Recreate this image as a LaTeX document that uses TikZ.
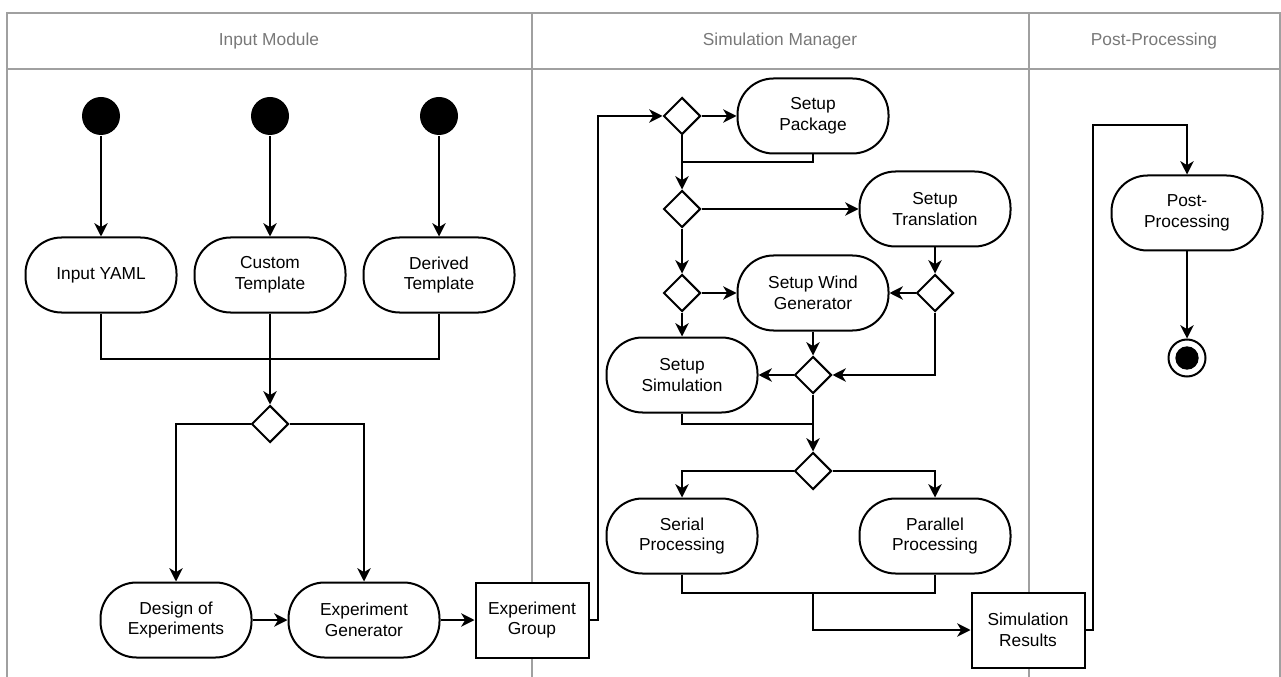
\documentclass[tikz,border=0pt]{standalone}
\usepackage{fontspec}
\setmainfont{Liberation Sans}
\usetikzlibrary{shapes.geometric,arrows.meta,positioning}
\definecolor{lanegray}{RGB}{160,160,160}
\definecolor{headgray}{RGB}{120,120,120}
\begin{document}
\begin{tikzpicture}[x=0.75pt,y=-0.75pt]
    \tikzstyle{every node} = [align=center, font=\fontsize{13pt}{15.5pt}\selectfont, line width=1.5pt]
    \tikzstyle{action} = [draw, fill=white, rounded corners=27pt, minimum width=113.25pt, minimum height=56.25pt, inner sep=0pt]
    \tikzstyle{object} = [draw, fill=white, minimum width=84.75pt, minimum height=56.25pt, inner sep=0pt]
    \tikzstyle{decision} = [draw, fill=white, diamond, minimum width=27.75pt, minimum height=27.75pt, inner sep=0pt]
    \tikzstyle{startdot} = [circle, fill=black, minimum size=28.5pt, inner sep=0pt]
    \tikzstyle{enddot} = [draw, circle, minimum size=27.75pt, inner sep=0pt, path picture={\fill (path picture bounding box.center) circle (8.75pt);}]
    \tikzstyle{flow} = [line width=1.5pt, -{Stealth[length=10pt, width=10pt, inset=3pt]}]
    \tikzstyle{link} = [line width=1.5pt]
    \tikzstyle{lane} = [draw=lanegray, line width=1.5pt]
    \tikzstyle{lanetitle} = [text=headgray]

    \useasboundingbox (0,0) rectangle (1281,677);

    % swimlanes
    \draw[lane] (7,677) -- (7,13) -- (1280,13) -- (1280,677);
    \draw[lane] (7,69) -- (1280,69);
    \draw[lane] (532,13) -- (532,677);
    \draw[lane] (1029,13) -- (1029,677);
    \node[lanetitle] (t1) at (269,41) {Input Module};
    \node[lanetitle] (t2) at (780,41) {Simulation Manager};
    \node[lanetitle] (t3) at (1154,41) {Post-Processing};

    % input module
    \node[action] (yaml) at (101,275) {Input YAML};
    \node[action, right of=yaml, node distance=126.75pt] (custom) {Custom\\Template};
    \node[action, right of=custom, node distance=126.75pt] (derived) {Derived\\Template};
    \node[startdot, above of=yaml, node distance=119.25pt] (s1) {};
    \node[startdot, above of=custom, node distance=119.25pt] (s2) {};
    \node[startdot, above of=derived, node distance=119.25pt] (s3) {};
    \coordinate (m1) at (270,359);
    \node[decision, below of=custom, node distance=111.75pt] (d1) {};
    \node[action] (doe) at (176,620) {Design of\\Experiments};
    \node[action, right of=doe, node distance=141pt] (gen) {Experiment\\Generator};
    \node[object, right of=gen, node distance=126pt] (group) {Experiment\\Group};

    % simulation manager
    \coordinate (j0) at (598,116);
    \node[decision] (d2) at (682,116) {};
    \node[action, right of=d2, node distance=98.25pt] (pkg) {Setup\\Package};
    \coordinate (j1) at (682,162);
    \node[decision, below of=d2, node distance=69.75pt] (d3) {};
    \node[action, right of=d3, node distance=189.75pt] (trans) {Setup\\Translation};
    \node[decision, below of=d3, node distance=63pt] (d4) {};
    \node[action, right of=d4, node distance=98.25pt] (wind) {Setup Wind\\Generator};
    \node[decision, right of=wind, node distance=91.5pt] (d5) {};
    \node[action, below of=d4, node distance=61.5pt] (sim) {Setup\\Simulation};
    \node[decision, below of=wind, node distance=61.5pt] (d6) {};
    \coordinate (j2) at (813,424);
    \node[decision, below of=d6, node distance=72pt] (d7) {};
    \node[action, below of=sim, node distance=120.75pt] (serial) {Serial\\Processing};
    \node[action, right of=serial, node distance=189.75pt] (parallel) {Parallel\\Processing};
    \coordinate (j3) at (813,593);
    \node[object] (results) at (1028,630) {Simulation\\Results};

    % post-processing
    \coordinate (j4) at (1093,125);
    \node[action] (post) at (1187,213) {Post-\\Processing};
    \node[enddot, below of=post, node distance=108.75pt] (final) {};

    \draw[flow] (s1) -- (yaml);
    \draw[flow] (s2) -- (custom);
    \draw[flow] (s3) -- (derived);
    \draw[link] (yaml) |- (m1) -| (derived);
    \draw[flow] (custom) -- (d1);
    \draw[flow] (d1) -| (doe);
    \draw[flow] (d1) -| (gen);
    \draw[flow] (doe) -- (gen);
    \draw[flow] (gen) -- (group);
    \draw[flow] (group) -| (j0) -- (d2);
    \draw[flow] (d2) -- (pkg);
    \draw[link] (pkg) |- (j1);
    \draw[flow] (d2) -- (d3);
    \draw[flow] (d3) -- (trans);
    \draw[flow] (d3) -- (d4);
    \draw[flow] (d4) -- (wind);
    \draw[flow] (trans) -- (d5);
    \draw[flow] (d5) -- (wind);
    \draw[flow] (d4) -- (sim);
    \draw[flow] (wind) -- (d6);
    \draw[flow] (d6) -- (sim);
    \draw[flow] (d5) |- (d6);
    \draw[link] (sim) |- (j2);
    \draw[flow] (d6) -- (d7);
    \draw[flow] (d7) -| (serial);
    \draw[flow] (d7) -| (parallel);
    \draw[link] (serial) |- (j3) -| (parallel);
    \draw[flow] (j3) |- (results);
    \draw[flow] (results) -| (j4) -| (post);
    \draw[flow] (post) -- (final);
\end{tikzpicture}
\end{document}
